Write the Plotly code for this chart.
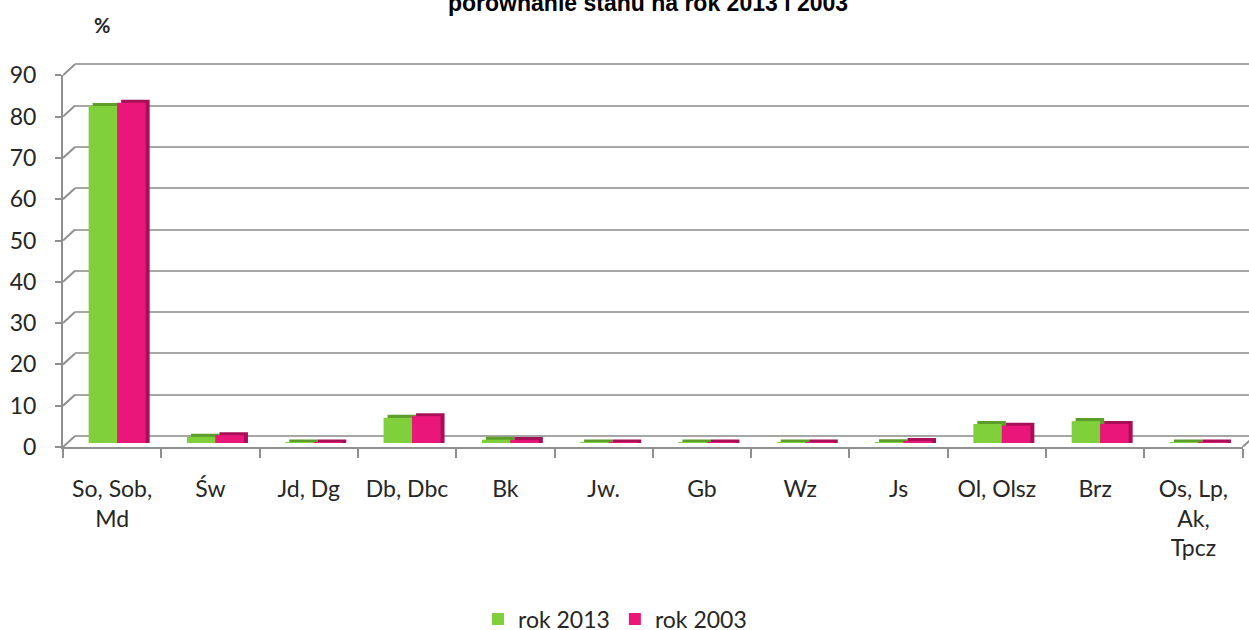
import plotly.graph_objects as go

# Species groups and share of stand area (%) in two inventory years
categories = ["So, Sob,<br>Md", "Św", "Jd, Dg", "Db, Dbc", "Bk", "Jw.", "Gb", "Wz", "Js",
              "Ol, Olsz", "Brz", "Os, Lp,<br>Ak,<br>Tpcz"]
rok_2013 = [81.6, 1.5, 0.1, 6.1, 0.8, 0.1, 0.1, 0.1, 0.2, 4.6, 5.3, 0.1]
rok_2003 = [82.4, 1.9, 0.1, 6.5, 0.7, 0.1, 0.1, 0.1, 0.5, 4.2, 4.6, 0.1]
y_ticks = [0, 10, 20, 30, 40, 50, 60, 70, 80, 90]

GREEN, PINK = "#80d03c", "#ea1679"
GREEN_DARK, PINK_DARK = "#5c9e2a", "#a70f57"
GRID = "#a6a6a6"
AXIS = "#8f8f8f"
TEXT = "#262626"
FONT = "Lato"

W, H = 1249, 630
# paper area in pixels
PL, PR, PT, PB = 63, 1249, 40, 447
CAT_W = 98.3          # pixels per category
PX_UNIT = 4.13        # pixels per percentage point
# oblique 3-D offsets (pixels right, pixels up) relative to the front plane
BACK = (12, 11)
BARS = (5, 4)
DEPTH = (4, 3)


def fx(px):
    return (px - PL) / (PR - PL)


def fy(py):
    return (PB - py) / (PB - PT)


def x_plane(dx, right=PR):
    left = PL + dx
    return dict(domain=[fx(left), fx(right)],
                range=[-0.5, -0.5 + (right - left) / CAT_W])


def y_plane(dy, pad=0.0):
    zero = PB - dy
    bottom = zero + pad * PX_UNIT
    return dict(domain=[fy(bottom), 1.0],
                range=[-pad, (zero - PT) / PX_UNIT])


hidden = dict(showgrid=False, zeroline=False, showline=False, showticklabels=False,
              ticks="", fixedrange=True)
cat = dict(type="category", categoryarray=categories)

fig = go.Figure()

# back wall: an invisible point keeps the subplot with its gridlines
fig.add_trace(go.Scatter(x=[categories[0]], y=[0], mode="markers", marker_opacity=0,
                         xaxis="x", yaxis="y", showlegend=False, hoverinfo="skip"))
# darker copies drawn slightly up and right give the top and side faces;
# they start at the front floor so flat bars still show their top face
depth_base = -DEPTH[1] / PX_UNIT
fig.add_trace(go.Bar(x=categories, y=[v - depth_base for v in rok_2013], base=depth_base,
                     marker=dict(color=GREEN_DARK, line_width=0),
                     xaxis="x2", yaxis="y2", showlegend=False, hoverinfo="skip"))
fig.add_trace(go.Bar(x=categories, y=[v - depth_base for v in rok_2003], base=depth_base,
                     marker=dict(color=PINK_DARK, line_width=0),
                     xaxis="x2", yaxis="y2", showlegend=False, hoverinfo="skip"))
# front faces
fig.add_trace(go.Bar(x=categories, y=rok_2013, name="rok 2013",
                     marker=dict(color=GREEN, line_width=0), xaxis="x3", yaxis="y3"))
fig.add_trace(go.Bar(x=categories, y=rok_2003, name="rok 2003",
                     marker=dict(color=PINK, line_width=0), xaxis="x3", yaxis="y3"))
# front axes: an invisible point keeps the subplot
fig.add_trace(go.Scatter(x=[categories[0]], y=[0], mode="markers", marker_opacity=0,
                         xaxis="x4", yaxis="y4", showlegend=False, hoverinfo="skip"))

# wall edges joining the front axis to the back wall gridlines
dxc = BACK[0] / CAT_W
dyu = BACK[1] / PX_UNIT
wx, wy = [], []
for v in y_ticks:
    wx += [-0.5, -0.5 + dxc, None]
    wy += [v, v + dyu, None]
wx += [len(categories) - 0.5, len(categories) - 0.5 + dxc]
wy += [0, dyu]
fig.add_trace(go.Scatter(x=wx, y=wy, mode="lines", line=dict(color=AXIS, width=2),
                         xaxis="x5", yaxis="y5", showlegend=False, hoverinfo="skip",
                         cliponaxis=False))

front_top = PB - 90 * PX_UNIT

fig.update_layout(
    width=W, height=H,
    margin=dict(l=PL, r=W - PR, t=PT, b=H - PB, pad=0),
    paper_bgcolor="white", plot_bgcolor="rgba(0,0,0,0)",
    barmode="group", bargap=0.42, bargroupgap=0,
    font=dict(family=FONT, color=TEXT),
    # back wall gridlines
    xaxis=dict(**x_plane(BACK[0]), **hidden, **cat, anchor="y"),
    yaxis=dict(**y_plane(BACK[1], pad=0.3), showgrid=True, gridcolor=GRID, gridwidth=2,
               zeroline=False, showline=False, showticklabels=False, ticks="",
               tickmode="array", tickvals=y_ticks, fixedrange=True, anchor="x"),
    # bar top and side faces
    xaxis2=dict(**x_plane(BARS[0] + DEPTH[0]), **hidden, **cat, anchor="y2"),
    yaxis2=dict(**y_plane(BARS[1] + DEPTH[1], pad=1.0), **hidden, anchor="x2"),
    # bar front faces
    xaxis3=dict(**x_plane(BARS[0]), **hidden, **cat, anchor="y3"),
    yaxis3=dict(**y_plane(BARS[1]), **hidden, anchor="x3"),
    # front axes with labels
    xaxis4=dict(domain=[0, fx(PL + 12 * CAT_W)], range=[-0.5, 11.5], **cat,
                anchor="y4", showgrid=False, zeroline=False,
                showline=True, linecolor=AXIS, linewidth=2,
                ticks="outside", tickson="boundaries", ticklen=9, tickwidth=2,
                tickcolor=AXIS, ticklabelstandoff=20,
                tickfont=dict(family=FONT, size=23, color=TEXT), fixedrange=True),
    yaxis4=dict(domain=[0, fy(front_top)], range=[0, 90], anchor="x4",
                tickmode="array", tickvals=y_ticks, showgrid=False, zeroline=False,
                showline=True, linecolor=AXIS, linewidth=2,
                ticks="outside", ticklen=6, tickwidth=2, tickcolor=AXIS,
                ticklabelstandoff=14,
                tickfont=dict(family=FONT, size=23, color=TEXT), fixedrange=True),
    xaxis5=dict(domain=[0, 1], range=[-0.5, -0.5 + (PR - PL) / CAT_W], **hidden,
                anchor="y5"),
    yaxis5=dict(domain=[0, 1], range=[0, (PB - PT) / PX_UNIT], **hidden, anchor="x5"),
    legend=dict(orientation="h", x=fx(615), xanchor="center",
                yref="container", y=1 - 619 / H, yanchor="middle",
                font=dict(family=FONT, size=23, color=TEXT),
                itemwidth=30, tracegroupgap=0, bgcolor="rgba(0,0,0,0)"),
    annotations=[
        dict(text="<b>porównanie stanu na rok 2013 i 2003</b>", xref="paper", yref="paper",
             x=fx(648), y=fy(3), xanchor="center", yanchor="middle", showarrow=False,
             font=dict(family="Liberation Sans", size=23, color="black")),
        dict(text="<b>%</b>", xref="paper", yref="paper", x=fx(102), y=fy(25),
             xanchor="center", yanchor="middle", showarrow=False,
             font=dict(family=FONT, size=20, color=TEXT)),
    ],
)

fig.write_html("out.html")
